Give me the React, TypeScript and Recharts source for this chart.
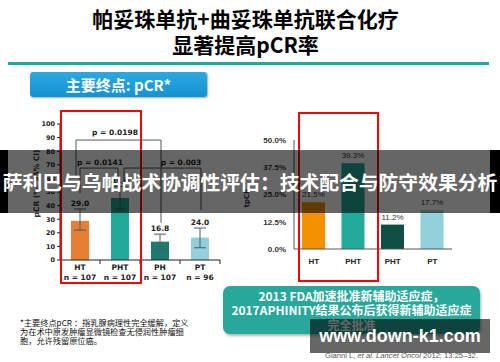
import React from 'react';
import {
  ComposedChart,
  BarChart,
  Bar,
  Line,
  XAxis,
  YAxis,
  ErrorBar,
  Cell,
  LabelList,
  ReferenceLine,
  ReferenceDot,
} from 'recharts';

// ---------- Left chart data ----------
const leftCategories = ['HT', 'PHT', 'PH', 'PT'];
const leftN = ['n = 107', 'n = 107', 'n = 107', 'n = 96'];
const leftBarValues = [28.8, 45.6, 13.5, 16.5];
const leftLabels = ['29.0', '45.8', '16.8', '24.0'];
const leftLow = [22, 37.5, 7.5, 9];
const leftHigh = [37.5, 54, 19, 23.5];
const leftColors = ['#e67e33', '#21a99a', '#1b7b6d', '#93cfdb'];
const leftYTicks = [0, 10, 20, 30, 40, 50, 60, 70, 80, 90, 100];
const leftXTicks = [0, 0.5, 1, 1.5, 2, 2.5, 3, 3.5];

// significance brackets (data coordinates)
const bracketLabels = ['p = 0.0198', 'p = 0.0141', 'p = 0.003'];
const bracketX1 = [-0.1, 0, 1.1];
const bracketX2 = [2.025, 0.95, 3.025];
const bracketY = [88.2, 67.6, 67.6];
const bracketLeftEnd = [62, 49, 56];
const bracketRightEnd = [27.4, 56, 36.8];
const bracketTextX = [0.875, 0.5, 2.525];
const bracketTextY = [93.6, 72, 72];

// ---------- Right chart data ----------
const rightCategories = ['HT', 'PHT', 'PHT', 'PT'];
const rightValues = [21.5, 39.3, 11.2, 17.7];
const rightColors = ['#f39200', '#22ab9b', '#0f4f44', '#93d0da'];
const rightYTicks = [0, 12.5, 25, 37.5, 50];

const leftData = leftCategories.map((c, i) => ({
  x: i,
  name: c,
  v: leftBarValues[i],
  hi: leftHigh[i],
  label: leftLabels[i],
  err: [leftBarValues[i] - leftLow[i], leftHigh[i] - leftBarValues[i]],
}));

const rightData = rightCategories.map((c, i) => ({ name: c, v: rightValues[i] }));

const DEJAVU = '"DejaVu Sans", sans-serif';
const ARIAL = '"Liberation Sans", Arial, sans-serif';
const CJK = '"Noto Sans CJK SC", "Noto Sans", sans-serif';

const LeftTick = (props: any) => {
  const { x, y, payload } = props;
  const v = payload.value;
  if (Number.isInteger(v)) {
    return (
      <g>
        <text x={x} y={y + 9.5} textAnchor="middle" fontSize={7.5} fontWeight="bold" fill="#222" fontFamily={DEJAVU}>
          {leftCategories[v]}
        </text>
        <text x={x} y={y + 19.5} textAnchor="middle" fontSize={7.5} fontWeight="bold" fill="#222" fontFamily={DEJAVU}>
          {leftN[v]}
        </text>
      </g>
    );
  }
  return <line x1={x} x2={x} y1={y} y2={y + 4} stroke="#222" strokeWidth={1} />;
};

const abs = (s: React.CSSProperties): React.CSSProperties => ({ position: 'absolute', ...s });

export default function App() {
  return (
    <div
      style={{
        position: 'fixed',
        left: 0,
        top: 0,
        width: 500,
        height: 362,
        background: '#fff',
        overflow: 'hidden',
      }}
    >
      {/* Title */}
      <div
        style={abs({
          left: 0,
          top: 5,
          width: 491,
          textAlign: 'center',
          fontFamily: CJK,
          fontWeight: 700,
          fontSize: 21,
          lineHeight: '26px',
          color: '#000',
        })}
      >
        帕妥珠单抗+曲妥珠单抗联合化疗
        <br />
        显著提高pCR率
      </div>
      <div style={abs({ left: 8, top: 62, width: 481, height: 3, background: '#19aaa0' })} />

      {/* Blue heading box */}
      <div
        style={abs({
          left: 30,
          top: 72,
          width: 177,
          height: 25,
          borderRadius: 3,
          background: 'linear-gradient(#2aa9e2, #1592d0)',
          boxShadow: '1px 1px 2px rgba(0,0,0,0.35)',
          color: '#fff',
          fontFamily: CJK,
          fontWeight: 700,
          fontSize: 15,
          lineHeight: '25px',
          textAlign: 'center',
        })}
      >
        主要终点: pCR*
      </div>

      {/* Left chart */}
      <div style={abs({ left: 0, top: 100 })}>
        <ComposedChart width={240} height={190} data={leftData} margin={{ top: 24, right: 20, bottom: 0, left: 0 }}>
          <XAxis
            type="number"
            dataKey="x"
            domain={[-0.5, 3.5]}
            ticks={leftXTicks}
            interval={0}
            tickSize={0}
            tickMargin={0}
            tickLine={false}
            height={30}
            axisLine={{ stroke: '#222' }}
            tick={LeftTick}
            allowDataOverflow
          />
          <YAxis
            domain={[0, 100]}
            ticks={leftYTicks}
            interval={0}
            width={60}
            tickSize={3}
            tickMargin={2}
            axisLine={{ stroke: '#222' }}
            tickLine={{ stroke: '#222' }}
            tick={{ fontSize: 6.5, fill: '#222', fontFamily: DEJAVU, fontWeight: 'bold' }}
          />
          <Bar dataKey="v" barSize={18} isAnimationActive={false}>
            {leftData.map((d, i) => (
              <Cell key={i} fill={leftColors[i]} />
            ))}
            <ErrorBar dataKey="err" width={6} stroke="#4a5a6a" strokeWidth={1} direction="y" />
          </Bar>
          <Line dataKey="hi" stroke="none" dot={false} activeDot={false} isAnimationActive={false} legendType="none">
            <LabelList
              dataKey="label"
              position="top"
              offset={3}
              style={{ fontSize: 7.5, fontWeight: 'bold', fill: '#222', fontFamily: DEJAVU }}
            />
          </Line>
          {bracketLabels.map((lab, i) => (
            <ReferenceLine
              key={'h' + i}
              segment={[
                { x: bracketX1[i], y: bracketY[i] },
                { x: bracketX2[i], y: bracketY[i] },
              ]}
              stroke="#555"
              strokeWidth={1}
            />
          ))}
          {bracketLabels.map((lab, i) => (
            <ReferenceLine
              key={'l' + i}
              segment={[
                { x: bracketX1[i], y: bracketY[i] },
                { x: bracketX1[i], y: bracketLeftEnd[i] },
              ]}
              stroke="#555"
              strokeWidth={1}
            />
          ))}
          {bracketLabels.map((lab, i) => (
            <ReferenceLine
              key={'r' + i}
              segment={[
                { x: bracketX2[i], y: bracketY[i] },
                { x: bracketX2[i], y: bracketRightEnd[i] },
              ]}
              stroke="#555"
              strokeWidth={1}
            />
          ))}
          {bracketLabels.map((lab, i) => (
            <ReferenceDot
              key={'t' + i}
              x={bracketTextX[i]}
              y={bracketTextY[i]}
              r={0}
              fill="none"
              stroke="none"
              label={{
                value: lab,
                position: 'center',
                fontSize: 7.5,
                fontWeight: 'bold',
                fill: '#222',
                fontFamily: DEJAVU,
              }}
            />
          ))}
        </ComposedChart>
      </div>
      <svg style={abs({ left: 0, top: 0 })} width={500} height={362} pointerEvents="none">
        <text
          transform="translate(38.5,183.5) rotate(-90)"
          textAnchor="middle"
          fontSize={7.5}
          fontWeight="bold"
          fill="#333"
          fontFamily={DEJAVU}
        >
          pCR (%, 95% CI)
        </text>
        <text
          transform="translate(249,198) rotate(-90)"
          textAnchor="middle"
          fontSize={7}
          fontWeight="bold"
          fill="#333"
          fontFamily={DEJAVU}
        >
          tpCR
        </text>
      </svg>

      {/* Right chart */}
      <div style={abs({ left: 240, top: 100 })}>
        <BarChart width={230} height={190} data={rightData} margin={{ top: 40, right: 18, bottom: 0, left: 0 }}>
          <XAxis
            dataKey="name"
            height={41}
            tickLine={false}
            tickSize={0}
            tickMargin={9}
            axisLine={{ stroke: '#555' }}
            interval={0}
            tick={{ fontSize: 8, fontWeight: 'bold', fill: '#222', fontFamily: ARIAL }}
          />
          <YAxis
            width={54}
            domain={[0, 50]}
            ticks={rightYTicks}
            interval={0}
            tickLine={false}
            tickSize={0}
            tickMargin={8}
            axisLine={{ stroke: '#555' }}
            tickFormatter={(v: number) => v.toFixed(1) + '%'}
            tick={{ fontSize: 8, fontWeight: 'bold', fill: '#333', fontFamily: ARIAL }}
          />
          <Bar dataKey="v" barSize={23} isAnimationActive={false}>
            {rightData.map((d, i) => (
              <Cell key={i} fill={rightColors[i]} />
            ))}
            <LabelList
              dataKey="v"
              position="top"
              offset={5}
              formatter={(v: number) => v.toFixed(1) + '%'}
              style={{ fontSize: 8, fill: '#333', fontFamily: ARIAL }}
            />
          </Bar>
        </BarChart>
      </div>

      {/* Red highlight boxes */}
      <div style={abs({ left: 60, top: 110, width: 82, height: 174, border: '2px solid #ff0000', boxSizing: 'border-box' })} />
      <div style={abs({ left: 298, top: 112, width: 81, height: 170, border: '2px solid #ff0000', boxSizing: 'border-box' })} />

      {/* Footnote */}
      <div
        style={abs({
          left: 20,
          top: 318,
          fontFamily: CJK,
          fontSize: 8.2,
          lineHeight: '9px',
          color: '#111',
          whiteSpace: 'nowrap',
        })}
      >
        *主要终点pCR ：指乳腺病理性完全缓解，定义
        <br />
        为在术中原发肿瘤显微镜检查无侵润性肿瘤细
        <br />
        胞，允许残留原位癌。
      </div>

      {/* Teal note box */}
      <div
        style={abs({
          left: 223,
          top: 286,
          width: 257,
          height: 48,
          borderRadius: 7,
          background: '#27a89b',
          boxShadow: '1px 2px 3px rgba(0,0,0,0.3)',
          color: '#fff',
          fontFamily: CJK,
          fontWeight: 700,
          fontSize: 12,
          lineHeight: '14.5px',
          textAlign: 'center',
          paddingTop: 2.5,
          boxSizing: 'border-box',
          whiteSpace: 'nowrap',
        })}
      >
        2013 FDA加速批准新辅助适应症，
        <br />
        2017APHINITY结果公布后获得新辅助适应症
        <br />
        完全批准
      </div>

      {/* Citation */}
      <div
        style={abs({
          left: 325,
          top: 351,
          fontFamily: ARIAL,
          fontSize: 7.6,
          lineHeight: '9px',
          color: '#555',
          whiteSpace: 'nowrap',
        })}
      >
        Gianni L, <i>et al.</i> <i>Lancet Oncol</i> 2012; 13:25–32.
      </div>

      {/* Watermark */}
      <div
        style={abs({
          left: 310,
          top: 319,
          width: 180,
          height: 34,
          background: 'rgba(0,0,0,0.6)',
          color: '#fff',
          fontFamily: ARIAL,
          fontWeight: 700,
          fontSize: 18,
          lineHeight: '34px',
          textAlign: 'center',
          whiteSpace: 'nowrap',
        })}
      >
        www.down-k1.com
      </div>

      {/* Overlay banner */}
      <div style={abs({ left: 0, top: 150, width: 8, height: 63, background: '#000' })} />
      <div style={abs({ left: 490, top: 150, width: 10, height: 63, background: '#000' })} />
      <div
        style={abs({
          left: 0,
          top: 150,
          width: 500,
          height: 63,
          background: 'rgba(0,0,0,0.6)',
          color: '#fff',
          fontFamily: CJK,
          fontWeight: 700,
          fontSize: 19.8,
          lineHeight: '63px',
          textAlign: 'center',
          whiteSpace: 'nowrap',
        })}
      >
        萨利巴与乌帕战术协调性评估：技术配合与防守效果分析
      </div>
    </div>
  );
}
